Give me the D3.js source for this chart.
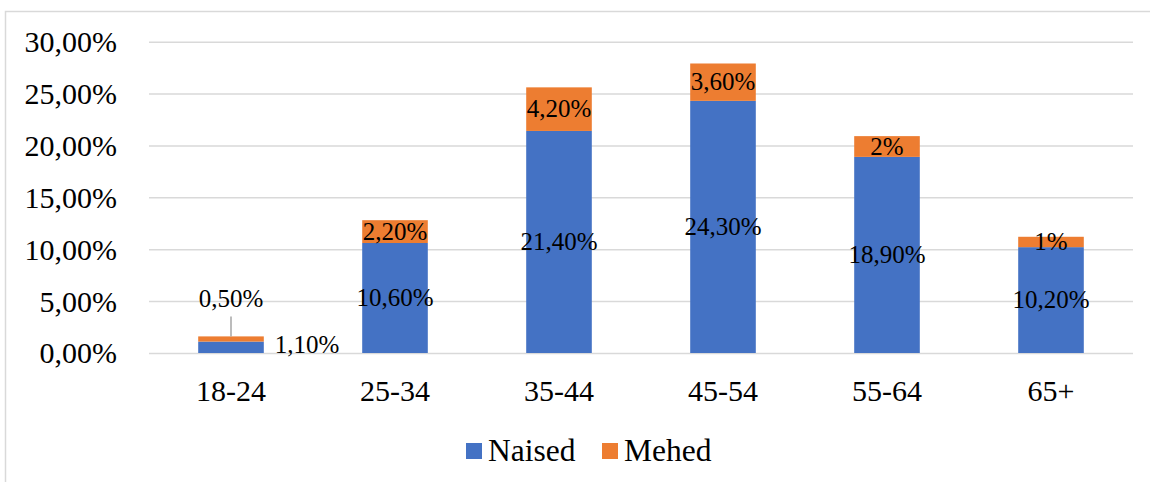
<!DOCTYPE html>
<html>
<head>
<meta charset="utf-8">
<script src="https://cdn.jsdelivr.net/npm/d3@7"></script>
<style>
  html, body { margin: 0; padding: 0; background: #fff; }
  svg { display: block; }
  text { font-family: "Liberation Serif", "Times New Roman", serif; fill: #000; }
</style>
</head>
<body>
<svg id="chart" width="1150" height="482"></svg>
<script>
// Age groups and the share of each group by gender (percent)
const categories = ["18-24", "25-34", "35-44", "45-54", "55-64", "65+"];
const naised = [1.1, 10.6, 21.4, 24.3, 18.9, 10.2];
const mehed = [0.5, 2.2, 4.2, 3.6, 2, 1];
const seriesNames = ["Naised", "Mehed"];
const yTicks = [0, 5, 10, 15, 20, 25, 30];

const colors = { Naised: "#4472C4", Mehed: "#ED7D31" };
const W = 1150, H = 482;
const plot = { left: 149, right: 1133, top: 41.7, bottom: 353 };

const svg = d3.select("#chart");

// outer chart frame (only the top and left edges fall inside the view)
svg.append("rect")
  .attr("x", 5.5).attr("y", 11.5)
  .attr("width", W + 20).attr("height", H + 20)
  .attr("fill", "none").attr("stroke", "#d9d9d9").attr("stroke-width", 1.5);

const x = d3.scaleBand().domain(categories)
  .range([plot.left, plot.right]).paddingInner(0.6).paddingOuter(0.3);
const y = d3.scaleLinear().domain([0, 30]).range([plot.bottom, plot.top]);

const fmt = v => Number.isInteger(v) ? v + "%" : v.toFixed(2).replace(".", ",") + "%";
const axisFmt = v => v.toFixed(2).replace(".", ",") + "%";

// gridlines + y labels
const yAxis = d3.axisLeft(y).tickValues(yTicks)
  .tickSize(-(plot.right - plot.left)).tickPadding(32).tickFormat(axisFmt);
const gy = svg.append("g").attr("transform", `translate(${plot.left},0)`).call(yAxis);
gy.select(".domain").remove();
gy.selectAll(".tick line").attr("stroke", "#d9d9d9").attr("stroke-width", 1.5);
gy.selectAll(".tick text")
  .attr("font-size", 30).attr("fill", "#000")
  .attr("font-family", "Liberation Serif, serif")
  .attr("dy", "0.33em");

// x labels
const xAxis = d3.axisBottom(x).tickSize(0).tickPadding(0);
const gx = svg.append("g").attr("transform", `translate(0,${plot.bottom})`).call(xAxis);
gx.select(".domain").remove();
gx.selectAll(".tick text")
  .attr("font-size", 30).attr("fill", "#000")
  .attr("font-family", "Liberation Serif, serif")
  .attr("y", 48).attr("dy", 0);

// stacked bars
const rows = categories.map((c, i) => ({ cat: c, Naised: naised[i], Mehed: mehed[i] }));
const stack = d3.stack().keys(seriesNames)(rows);

const layers = svg.append("g").selectAll("g").data(stack).join("g")
  .attr("fill", d => colors[d.key]);
layers.selectAll("rect").data(d => d).join("rect")
  .attr("x", d => x(d.data.cat))
  .attr("width", x.bandwidth())
  .attr("y", d => y(d[1]))
  .attr("height", d => y(d[0]) - y(d[1]));

// data labels
const labelSize = 25;
const lbl = svg.append("g").attr("font-size", labelSize);
stack.forEach(layer => {
  layer.forEach((d, i) => {
    const cx = x(d.data.cat) + x.bandwidth() / 2;
    const mid = (y(d[0]) + y(d[1])) / 2;
    const text = fmt(d.data[layer.key]);
    if (i === 0) {
      if (layer.key === "Naised") {
        // too thin to hold its label: placed to the right of the bar
        lbl.append("text").attr("x", x(d.data.cat) + x.bandwidth() + 11)
          .attr("y", y(0)).attr("text-anchor", "start").text(text);
      } else {
        // label lifted above the bar with a leader line
        const ly = y(d[1]) - 38;
        lbl.append("line").attr("x1", cx).attr("x2", cx)
          .attr("y1", ly + 18).attr("y2", y(d[1]))
          .attr("stroke", "#a6a6a6").attr("stroke-width", 1.5);
        lbl.append("text").attr("x", cx).attr("y", ly + 8.3)
          .attr("text-anchor", "middle").text(text);
      }
    } else {
      lbl.append("text").attr("x", cx).attr("y", mid + labelSize * 0.33)
        .attr("text-anchor", "middle").text(text);
    }
  });
});

// legend
const legend = svg.append("g");
const legendItems = [
  { name: "Naised", x: 466 },
  { name: "Mehed", x: 602 }
];
legendItems.forEach(it => {
  legend.append("rect").attr("x", it.x).attr("y", 443).attr("width", 16).attr("height", 16)
    .attr("fill", colors[it.name]);
  legend.append("text").attr("x", it.x + 22).attr("y", 461)
    .attr("font-size", 31.5).text(it.name);
});
</script>
</body>
</html>
